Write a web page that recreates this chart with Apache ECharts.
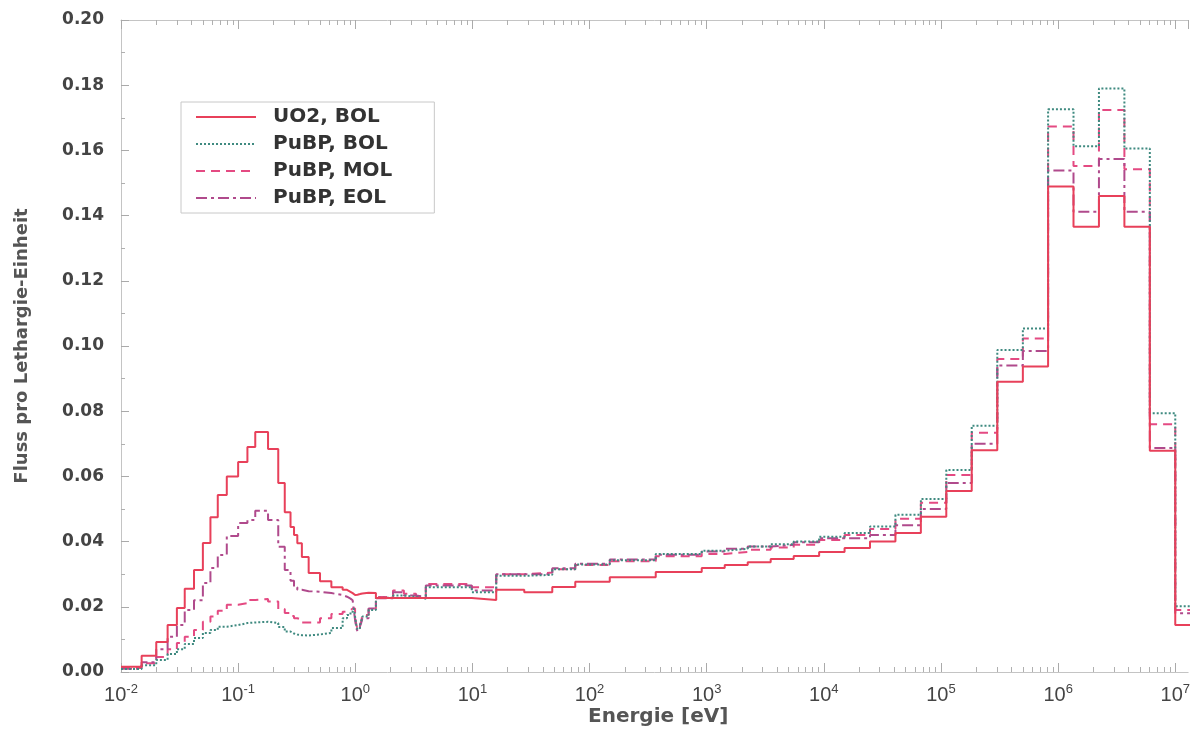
<!DOCTYPE html>
<html><head><meta charset="utf-8">
<script src="https://cdn.jsdelivr.net/npm/echarts@6/dist/echarts.min.js"></script>
<style>html,body{margin:0;padding:0;background:#fff}#c{width:1193px;height:733px}</style>
</head><body><div id="c"></div>
<script>
// group boundaries (eV)
const energyBounds = [0.01, 0.015, 0.02, 0.025, 0.03, 0.035, 0.042, 0.05, 0.058, 0.067, 0.08, 0.1, 0.12, 0.14, 0.18, 0.22, 0.25, 0.28, 0.30, 0.32, 0.35, 0.40, 0.50, 0.625, 0.78, 0.85, 0.91, 0.95, 0.972, 0.996, 1.02, 1.045, 1.071, 1.097, 1.123, 1.15, 1.3, 1.5, 2.1, 2.6, 3.3, 4.0,
  9.877, 15.968, 27.7, 48.052, 75.501, 148.728, 367.262, 906.898, 1425.1, 2239.45, 3519.1, 5530, 9118,
  15030, 24780, 40850, 67340, 111000, 183000, 302500, 500000, 821000, 1353000, 2231000, 3679000, 6065500, 1e7, 1.96e7];

const uo2Bol = [0.0016, 0.005, 0.0092, 0.0144, 0.0196, 0.0255, 0.0313, 0.0396, 0.0475, 0.0543, 0.060, 0.0644, 0.069, 0.0736, 0.0684, 0.058, 0.049, 0.0445, 0.042, 0.0395, 0.0353, 0.0304, 0.0278, 0.026, 0.0252, 0.0246, 0.0242, 0.0238, 0.0236, 0.0236, 0.0237, 0.0238, 0.0239, 0.024, 0.0241, 0.0243, 0.0242, 0.0227, 0.0227, 0.0227, 0.0227,
  0.0227, 0.0221, 0.0252, 0.0245, 0.0261, 0.0277, 0.0291, 0.0307, 0.0319, 0.0328, 0.0337, 0.0347, 0.0356,
  0.0368, 0.038, 0.040, 0.0426, 0.0476, 0.0555, 0.068, 0.089, 0.0937, 0.1489, 0.1366, 0.146, 0.1366, 0.0679, 0.0144];

const pubpBol = [0.0009, 0.0021, 0.0037, 0.0055, 0.007, 0.0086, 0.0104, 0.012, 0.0129, 0.0139, 0.0144, 0.015, 0.0152, 0.0154, 0.015, 0.0138, 0.0124, 0.0118, 0.0115, 0.0113, 0.0112, 0.0115, 0.012, 0.0135,
  0.0165, 0.0175, 0.0185, 0.019, 0.0195, 0.017, 0.0145, 0.013, 0.0135, 0.0145, 0.0155, 0.017, 0.019, 0.0228, 0.0235, 0.023, 0.0225,
  0.026, 0.0245, 0.0295, 0.0298, 0.0315, 0.033, 0.0343, 0.0362, 0.0372, 0.0378, 0.0385, 0.0392, 0.040,
  0.0415, 0.0426, 0.0446, 0.0482, 0.0531, 0.062, 0.0755, 0.0988, 0.1054, 0.1726, 0.1613, 0.179, 0.1606, 0.0794, 0.0202];

const pubpMol = [0.0012, 0.0027, 0.0046, 0.007, 0.0089, 0.0108, 0.0129, 0.0154, 0.017, 0.0188, 0.0206, 0.0211, 0.0221, 0.0224, 0.0216, 0.0193, 0.0181, 0.0172, 0.0165, 0.016, 0.0152, 0.0152, 0.0165, 0.0178,
  0.0185, 0.019, 0.0195, 0.02, 0.0195, 0.017, 0.0145, 0.0132, 0.0135, 0.0145, 0.0155, 0.0175, 0.0195, 0.023, 0.025, 0.024, 0.0232,
  0.027, 0.026, 0.030, 0.0305, 0.0315, 0.0328, 0.034, 0.0355, 0.0362, 0.0368, 0.0375, 0.0382, 0.039,
  0.0405, 0.042, 0.0439, 0.047, 0.0519, 0.0604, 0.0734, 0.096, 0.1023, 0.1673, 0.1552, 0.1724, 0.1542, 0.076, 0.019];

const pubpEol = [0.001, 0.003, 0.007, 0.0108, 0.0144, 0.019, 0.022, 0.0273, 0.0319, 0.0359, 0.0417, 0.0457, 0.0466, 0.0495, 0.0466, 0.0384, 0.0313, 0.028, 0.026, 0.0252, 0.0248, 0.0246, 0.0242, 0.0236, 0.0231, 0.0225, 0.022,
  0.0215, 0.019, 0.016, 0.0135, 0.0125, 0.013, 0.014, 0.015, 0.0165, 0.0195, 0.0226, 0.0245, 0.0235, 0.023,
  0.0265, 0.025, 0.030, 0.030, 0.0318, 0.0332, 0.0345, 0.036, 0.037, 0.0378, 0.0385, 0.039, 0.0398,
  0.041, 0.041, 0.042, 0.045, 0.050, 0.058, 0.070, 0.094, 0.0985, 0.1538, 0.1412, 0.1574, 0.1412, 0.0687, 0.018];

const seriesNames = ['UO2, BOL', 'PuBP, BOL', 'PuBP, MOL', 'PuBP, EOL'];
const decadeExponents = [-2, -1, 0, 1, 2, 3, 4, 5, 6, 7];
const minorMultipliers = [2, 3, 4, 5, 6, 7, 8, 9];
const xTitle = 'Energie [eV]';
const yTitle = 'Fluss pro Lethargie-Einheit';

function stepData(vals) {
  const pts = vals.map((v, i) => [Math.log10(energyBounds[i]), v]);
  pts.push([Math.log10(energyBounds[vals.length]), vals[vals.length - 1]]);
  return pts;
}
const xMin = -2, xMax = 7.11;
const minorTicks = [];
decadeExponents.forEach(n => minorMultipliers.forEach(k => {
  const t = Math.log10(k) + n;
  if (t < xMax) minorTicks.push(t);
}));

const axisColor = '#c4c4c4';
const txtColor = '#444';

function xAxisBase(pos) {
  return {type: 'value', min: xMin, max: xMax, interval: 1, position: pos,
    splitLine: {show: false}, axisLine: {show: true, onZero: false, lineStyle: {color: axisColor}}};
}

const chart = echarts.init(document.getElementById('c'));
chart.setOption({
  backgroundColor: '#fff',
  animation: false,
  grid: {left: 121, top: 20, bottom: 61, right: 0, containLabel: false},
  legend: {
    left: 181, top: 102, orient: 'vertical',
    data: seriesNames,
    itemWidth: 60, itemHeight: 14, itemGap: 5,
    padding: [4, 42, 4, 14],
    borderColor: '#c8c8c8', borderWidth: 1, backgroundColor: '#fff',
    itemStyle: {opacity: 0},
    textStyle: {fontFamily: 'DejaVu Sans', fontWeight: 'bold', fontSize: 20, color: '#333', lineHeight: 22, padding: [0, 0, 0, 12]}
  },
  xAxis: [
    Object.assign(xAxisBase('bottom'), {
      axisTick: {show: true, inside: true, length: 9, lineStyle: {color: '#aaa'}},
      axisLabel: {
        margin: 11, showMaxLabel: false,
        formatter: v => Number.isInteger(v) ? '{b|10}{s|' + v + '}' : '',
        rich: {
          b: {fontFamily: 'Liberation Sans Narrow, Liberation Sans', fontSize: 20, color: txtColor, verticalAlign: 'bottom', lineHeight: 22},
          s: {fontFamily: 'Liberation Sans Narrow, Liberation Sans', fontSize: 13, color: txtColor, verticalAlign: 'top', lineHeight: 13}
        }
      }
    }),
    Object.assign(xAxisBase('bottom'), {
      axisLine: {show: false, onZero: false},
      axisTick: {show: true, inside: true, length: 5, customValues: minorTicks, lineStyle: {color: '#b0b0b0'}},
      axisLabel: {show: false}
    }),
    Object.assign(xAxisBase('top'), {
      axisTick: {show: true, inside: true, length: 9, lineStyle: {color: '#aaa'}},
      axisLabel: {show: false}
    }),
    Object.assign(xAxisBase('top'), {
      axisLine: {show: false, onZero: false},
      axisTick: {show: true, inside: true, length: 5, customValues: minorTicks, lineStyle: {color: '#b0b0b0'}},
      axisLabel: {show: false}
    })
  ],
  yAxis: {
    type: 'value', min: 0, max: 0.2, interval: 0.02,
    splitLine: {show: false},
    axisLine: {show: true, onZero: false, lineStyle: {color: axisColor}},
    axisTick: {show: true, inside: true, length: 8, lineStyle: {color: '#aaa'}},
    minorTick: {show: true, splitNumber: 2, length: 4, lineStyle: {color: '#b0b0b0'}},
    axisLabel: {formatter: v => v.toFixed(2), fontFamily: 'DejaVu Sans', fontWeight: 'bold', fontSize: 17, color: txtColor, margin: 17},
    name: yTitle, nameLocation: 'middle', nameGap: 90, nameRotate: 90,
    nameTextStyle: {fontFamily: 'DejaVu Sans', fontWeight: 'bold', fontSize: 18, color: '#555'}
  },
  graphic: [{type: 'text', left: 588, top: 707, style: {text: xTitle, fontFamily: 'DejaVu Sans', fontWeight: 'bold', fontSize: 20, fill: '#555'}}],
  series: [
    {name: seriesNames[0], type: 'line', step: 'end', symbol: 'none', data: stepData(uo2Bol), z: 5,
      lineStyle: {color: '#e8405a', width: 2, type: 'solid'}, itemStyle: {color: '#e8405a'}},
    {name: seriesNames[1], type: 'line', step: 'end', symbol: 'none', data: stepData(pubpBol), z: 4,
      lineStyle: {color: '#3f8a80', width: 2, type: [2, 2]}, itemStyle: {color: '#3f8a80'}},
    {name: seriesNames[2], type: 'line', step: 'end', symbol: 'none', data: stepData(pubpMol), z: 3,
      lineStyle: {color: '#e44a82', width: 2, type: [9, 6]}, itemStyle: {color: '#e44a82'}},
    {name: seriesNames[3], type: 'line', step: 'end', symbol: 'none', data: stepData(pubpEol), z: 3,
      lineStyle: {color: '#b04a8c', width: 2, type: [11, 4, 3, 4]}, itemStyle: {color: '#b04a8c'}}
  ]
});
</script></body></html>
